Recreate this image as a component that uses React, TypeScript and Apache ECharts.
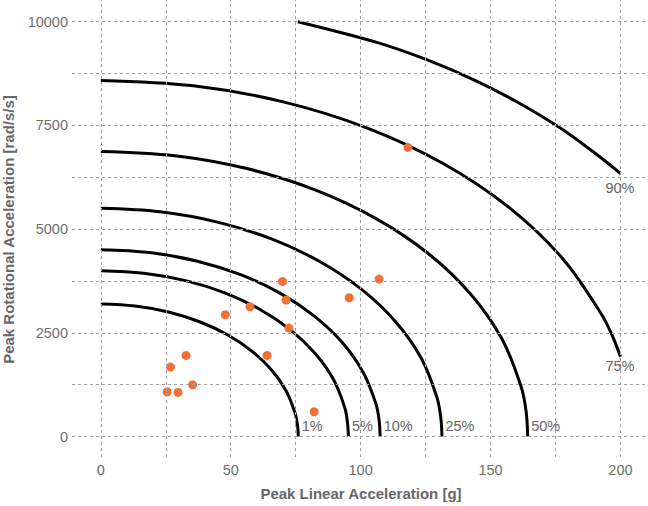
import React, { useEffect, useRef } from "react";
import * as echarts from "echarts";

const FONT = "'Liberation Sans', Arial, Helvetica, sans-serif";

// Axis ticks / grid
const xTickLabels = [0, 50, 100, 150, 200];
const yTickLabels = [0, 2500, 5000, 7500, 10000];
const xGridValues = [0, 25, 50, 75, 100, 125, 150, 175, 200];
const yGridValues = [0, 1250, 2500, 3750, 5000, 6250, 7500, 8750, 10000];

// Risk curves: [linear acceleration (g), rotational acceleration (rad/s/s)]
const risk1: number[][] = [
  [0, 3195], [13.2, 3146], [26.0, 3002], [38.0, 2767], [48.9, 2447], [58.2, 2054],
  [65.8, 1598], [71.4, 1093], [74.8, 555], [75.7, 279], [76.0, 0],
];
const risk5: number[][] = [
  [0, 3998], [16.5, 3937], [32.6, 3757], [47.7, 3462], [61.3, 3062], [73.0, 2570],
  [82.5, 1999], [89.6, 1367], [93.9, 694], [94.9, 349], [95.3, 0],
];
const risk10: number[][] = [
  [0, 4505], [18.7, 4437], [36.8, 4233], [53.8, 3901], [69.1, 3451], [82.3, 2896],
  [93.1, 2253], [101.0, 1541], [105.9, 782], [107.1, 393], [107.5, 0],
];
const risk25: number[][] = [
  [0, 5500], [22.8, 5416], [44.9, 5168], [65.7, 4763], [84.4, 4213], [100.6, 3535],
  [113.7, 2750], [123.4, 1881], [129.3, 955], [130.8, 480], [131.3, 0],
];
const risk50: number[][] = [
  [0, 6873], [28.5, 6769], [56.2, 6459], [82.2, 5952], [105.6, 5265], [125.9, 4418],
  [142.3, 3437], [154.4, 2351], [161.8, 1193], [163.7, 599], [164.3, 0],
];
const risk75: number[][] = [
  [0, 8585], [35.6, 8455], [70.2, 8067], [102.6, 7435], [131.9, 6576], [157.2, 5518],
  [177.7, 4293], [192.8, 2936], [197.3, 2366], [200, 1920],
];
const risk90: number[][] = [
  [75.8, 10000], [105.9, 9507], [125.4, 9084], [143.8, 8593], [161.1, 8035],
  [177.3, 7418], [192.0, 6743], [200, 6340],
];
const riskNames = ["1%", "5%", "10%", "25%", "50%", "75%", "90%"];

// Measured impacts
const impacts: number[][] = [
  [118.2, 6970], [107.1, 3795], [95.6, 3345], [69.9, 3738], [71.3, 3289],
  [57.4, 3128], [47.9, 2935], [72.4, 2614], [64.0, 1954], [32.8, 1954],
  [26.8, 1673], [35.3, 1247], [25.5, 1078], [29.7, 1062], [82.1, 596],
];

export default function App() {
  const ref = useRef<HTMLDivElement>(null);

  useEffect(() => {
    if (!ref.current) return;
    const chart = echarts.init(ref.current, null, { renderer: "svg" });
    const curves = [risk1, risk5, risk10, risk25, risk50, risk75, risk90];

    const curveSeries = curves.map((data, i) => {
      const last = data[data.length - 1];
      const right = i >= 5;
      return {
        type: "line",
        data,
        smooth: 0.35,
        showSymbol: false,
        symbol: "none",
        silent: true,
        z: 3,
        lineStyle: { color: "#000000", width: 3 },
        markPoint: {
          symbol: "circle",
          symbolSize: 1,
          silent: true,
          itemStyle: { color: "rgba(0,0,0,0)" },
          label: {
            show: true,
            formatter: "{b}",
            position: right ? [0, i === 6 ? 15 : 10] : [4, -10.5],
            align: right ? "center" : "left",
            verticalAlign: "middle",
            color: "#666666",
            fontSize: 14.5,
            fontFamily: FONT,
          },
          data: [{ coord: last, name: riskNames[i] }],
        },
      };
    });

    chart.setOption({
      animation: false,
      grid: { left: 72, right: 0, top: 0, bottom: 49, containLabel: false },
      xAxis: {
        type: "value",
        min: -11.1,
        max: 210.6,
        axisLine: { show: false },
        axisTick: { show: false },
        splitLine: { show: false },
        axisLabel: {
          customValues: xTickLabels,
          formatter: (v: number) => String(v),
          color: "#6e6e6e",
          fontSize: 14.5,
          fontFamily: FONT,
          margin: 5,
        },
      },
      yAxis: {
        type: "value",
        min: -494,
        max: 10523,
        axisLine: { show: false },
        axisTick: { show: false },
        splitLine: { show: false },
        axisLabel: {
          customValues: yTickLabels,
          formatter: (v: number) => String(v),
          color: "#6e6e6e",
          fontSize: 14.5,
          fontFamily: FONT,
          margin: 4,
        },
      },
      graphic: [
        {
          type: "text",
          x: 361,
          y: 493,
          style: {
            text: "Peak Linear Acceleration [g]",
            fontSize: 15,
            fontWeight: "bold",
            fontFamily: FONT,
            fill: "#66666e",
            align: "center",
            verticalAlign: "middle",
          },
        },
        {
          type: "text",
          x: 8,
          y: 229.5,
          rotation: Math.PI / 2,
          style: {
            text: "Peak Rotational Acceleration [rad/s/s]",
            fontSize: 15,
            fontWeight: "bold",
            fontFamily: FONT,
            fill: "#66666e",
            align: "center",
            verticalAlign: "middle",
          },
        },
      ],
      series: [
        {
          type: "line",
          data: [[0, 0]],
          showSymbol: false,
          symbol: "none",
          silent: true,
          z: 1,
          lineStyle: { opacity: 0 },
          markLine: {
            silent: true,
            symbol: ["none", "none"],
            label: { show: false },
            lineStyle: { color: "#a0a0a0", type: [3, 3], width: 1 },
            data: [
              ...xGridValues.map((v) => ({ xAxis: v })),
              ...yGridValues.map((v) => ({ yAxis: v })),
            ],
          },
        },
        ...curveSeries,
        {
          type: "scatter",
          data: impacts,
          symbol: "circle",
          symbolSize: 9,
          silent: true,
          z: 4,
          itemStyle: { color: "#f36f36", opacity: 1 },
        },
      ],
    });
    return () => chart.dispose();
  }, []);

  return (
    <div
      ref={ref}
      style={{ position: "absolute", left: 0, top: 0, width: 648, height: 506 }}
    />
  );
}
